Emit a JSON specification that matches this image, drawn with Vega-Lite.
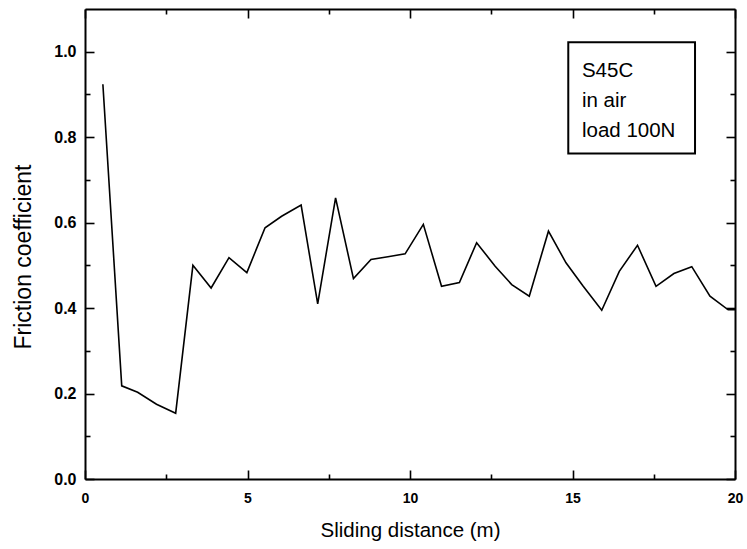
{
  "$schema": "https://vega.github.io/schema/vega-lite/v6.json",
  "width": 650,
  "height": 470,
  "autosize": {"type": "none"},
  "padding": {"left": 85, "top": 9, "right": 12, "bottom": 70},
  "background": "white",
  "config": {
    "view": {"stroke": null},
    "font": "Liberation Sans",
    "axis": {
      "domainColor": "black",
      "domainWidth": 2,
      "tickColor": "black",
      "tickWidth": 1.6,
      "grid": false,
      "labelFont": "Liberation Sans",
      "labelFontWeight": "bold",
      "labelColor": "black",
      "titleFont": "Liberation Sans",
      "titleFontWeight": "normal",
      "titleColor": "black"
    }
  },
  "datasets": {
    "curve": [
      {"distance": 0.55, "friction": 0.924},
      {"distance": 1.13, "friction": 0.218},
      {"distance": 1.62, "friction": 0.203},
      {"distance": 2.2, "friction": 0.175},
      {"distance": 2.79, "friction": 0.154},
      {"distance": 3.32, "friction": 0.5},
      {"distance": 3.88, "friction": 0.447},
      {"distance": 4.43, "friction": 0.518},
      {"distance": 4.98, "friction": 0.483},
      {"distance": 5.54, "friction": 0.588},
      {"distance": 6.05, "friction": 0.615},
      {"distance": 6.65, "friction": 0.641},
      {"distance": 7.16, "friction": 0.41},
      {"distance": 7.71, "friction": 0.658},
      {"distance": 8.26, "friction": 0.469},
      {"distance": 8.8, "friction": 0.514},
      {"distance": 9.32, "friction": 0.52},
      {"distance": 9.85, "friction": 0.527},
      {"distance": 10.41, "friction": 0.596},
      {"distance": 10.97, "friction": 0.451},
      {"distance": 11.52, "friction": 0.46},
      {"distance": 12.05, "friction": 0.553},
      {"distance": 12.62, "friction": 0.498},
      {"distance": 13.13, "friction": 0.455},
      {"distance": 13.67, "friction": 0.428},
      {"distance": 14.26, "friction": 0.58},
      {"distance": 14.8, "friction": 0.506},
      {"distance": 15.33, "friction": 0.451},
      {"distance": 15.9, "friction": 0.395},
      {"distance": 16.44, "friction": 0.486},
      {"distance": 17.0, "friction": 0.547},
      {"distance": 17.57, "friction": 0.451},
      {"distance": 18.12, "friction": 0.481},
      {"distance": 18.67, "friction": 0.497},
      {"distance": 19.23, "friction": 0.428},
      {"distance": 19.79, "friction": 0.396},
      {"distance": 20.0, "friction": 0.396}
    ],
    "box": [
      {"x1": 14.87, "x2": 18.77, "y1": 1.022, "y2": 0.762}
    ],
    "notes": [
      {"text": "S45C", "x": 15.29, "y": 0.941},
      {"text": "in air", "x": 15.29, "y": 0.87},
      {"text": "load 100N", "x": 15.29, "y": 0.8}
    ]
  },
  "layer": [
    {
      "data": {"name": "curve"},
      "mark": {"type": "line", "color": "black", "strokeWidth": 1.6, "interpolate": "linear"},
      "encoding": {
        "x": {
          "field": "distance", "type": "quantitative",
          "scale": {"domain": [0, 20], "nice": false, "zero": false},
          "axis": {
            "orient": "bottom",
            "title": "Sliding distance (m)",
            "titleFontSize": 20.5,
            "labelFontSize": 14,
            "values": [0, 2.5, 5, 7.5, 10, 12.5, 15, 17.5, 20],
            "tickSize": {"condition": {"test": "datum.value % 5 !== 0", "value": -5}, "value": -9},
            "labelExpr": "datum.value % 5 === 0 ? format(datum.value, 'd') : ''",
            "labelPadding": 21,
            "labelFlush": false,
            "labelOverlap": false,
            "titlePadding": 11
          }
        },
        "y": {
          "field": "friction", "type": "quantitative",
          "scale": {"domain": [0, 1.1], "nice": false, "zero": false},
          "axis": {
            "orient": "left",
            "title": "Friction coefficient",
            "titleFontSize": 23,
            "titleY": 247.5,
            "labelFontSize": 16,
            "values": [0, 0.1, 0.2, 0.3, 0.4, 0.5, 0.6, 0.7, 0.8, 0.9, 1.0],
            "tickSize": {"condition": {"test": "round(datum.value * 10) % 2 !== 0", "value": -5}, "value": -9},
            "labelExpr": "round(datum.value * 10) % 2 === 0 ? format(datum.value, '.1f') : ''",
            "labelPadding": 18,
            "labelFlush": false,
            "labelOverlap": false,
            "titlePadding": 18
          }
        }
      }
    },
    {
      "data": {"name": "box"},
      "mark": {"type": "rect", "fill": "white", "stroke": "black", "strokeWidth": 2},
      "encoding": {
        "x": {
          "field": "x1", "type": "quantitative",
          "scale": {"domain": [0, 20], "nice": false, "zero": false},
          "axis": {
            "orient": "top",
            "title": null,
            "values": [0, 2.5, 5, 7.5, 10, 12.5, 15, 17.5, 20],
            "tickSize": {"condition": {"test": "datum.value % 5 !== 0", "value": -5}, "value": -9},
            "labels": false
          }
        },
        "x2": {"field": "x2"},
        "y": {
          "field": "y1", "type": "quantitative",
          "scale": {"domain": [0, 1.1], "nice": false, "zero": false},
          "axis": {
            "orient": "right",
            "title": null,
            "values": [0, 0.1, 0.2, 0.3, 0.4, 0.5, 0.6, 0.7, 0.8, 0.9, 1.0],
            "tickSize": {"condition": {"test": "round(datum.value * 10) % 2 !== 0", "value": -5}, "value": -9},
            "labels": false
          }
        },
        "y2": {"field": "y2"}
      }
    },
    {
      "data": {"name": "notes"},
      "mark": {"type": "text", "align": "left", "baseline": "alphabetic", "fontSize": 20.5, "font": "Liberation Sans", "color": "black"},
      "encoding": {
        "x": {"field": "x", "type": "quantitative", "scale": {"domain": [0, 20], "nice": false, "zero": false}, "axis": null},
        "y": {"field": "y", "type": "quantitative", "scale": {"domain": [0, 1.1], "nice": false, "zero": false}, "axis": null},
        "text": {"field": "text", "type": "nominal"}
      }
    }
  ],
  "resolve": {"axis": {"x": "independent", "y": "independent"}}
}
